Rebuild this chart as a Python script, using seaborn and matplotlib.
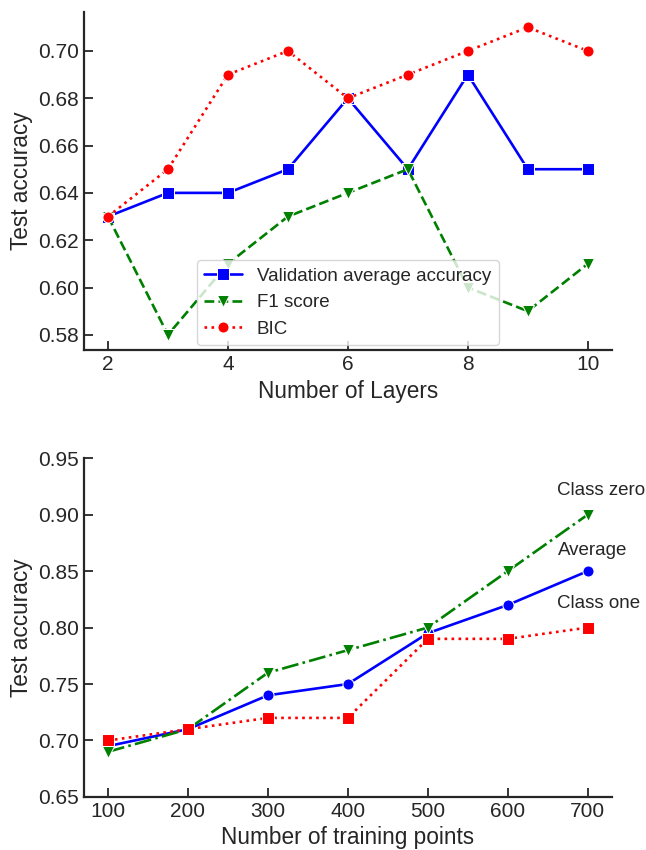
import matplotlib
matplotlib.use("Agg")
import matplotlib.pyplot as plt
import seaborn as sns
import pandas as pd

# ---- data ----
layers = [2, 3, 4, 5, 6, 7, 8, 9, 10]
val_avg_acc = [0.63, 0.64, 0.64, 0.65, 0.68, 0.65, 0.69, 0.65, 0.65]
f1_score = [0.63, 0.58, 0.61, 0.63, 0.64, 0.65, 0.60, 0.59, 0.61]
bic = [0.63, 0.65, 0.69, 0.70, 0.68, 0.69, 0.70, 0.71, 0.70]
layer_ticks = [2, 4, 6, 8, 10]

train_points = [100, 200, 300, 400, 500, 600, 700]
avg_acc = [0.695, 0.71, 0.74, 0.75, 0.795, 0.82, 0.85]
class_zero = [0.69, 0.71, 0.76, 0.78, 0.80, 0.85, 0.90]
class_one = [0.70, 0.71, 0.72, 0.72, 0.79, 0.79, 0.80]

sns.set_theme(style="ticks")
plt.rcParams['font.family'] = ['Liberation Sans', 'DejaVu Sans']
plt.rcParams.update({
    'axes.linewidth': 1.6,
    'xtick.direction': 'in', 'ytick.direction': 'in',
    'xtick.major.size': 6.5, 'ytick.major.size': 6.5,
    'xtick.major.width': 1.3, 'ytick.major.width': 1.3,
    'xtick.labelsize': 15, 'ytick.labelsize': 15,
    'axes.labelsize': 16.3, 'text.color': '#262626',
    'axes.edgecolor': '#262626', 'xtick.color': '#262626', 'ytick.color': '#262626',
    'axes.labelcolor': '#262626',
})

fig = plt.figure(figsize=(6.46, 8.5), dpi=100)
ax1 = fig.add_axes([0.130, 0.588, 0.817, 0.398])
ax2 = fig.add_axes([0.130, 0.0624, 0.817, 0.3986])

top = pd.DataFrame({'layers': layers, 'val': val_avg_acc, 'f1': f1_score, 'bic': bic})
lw = 1.9
ms = 8
sns.lineplot(data=top, x='layers', y='val', ax=ax1, color='blue', marker='s',
             linestyle='-', lw=lw, markersize=ms, label='Validation average accuracy')
sns.lineplot(data=top, x='layers', y='f1', ax=ax1, color='green', marker='v',
             linestyle='--', lw=lw, markersize=ms, label='F1 score')
sns.lineplot(data=top, x='layers', y='bic', ax=ax1, color='red', marker='o',
             linestyle=':', lw=lw, markersize=ms, label='BIC')
ax1.set_xticks(layer_ticks)
ax1.set_xlabel('Number of Layers')
ax1.set_ylabel('Test accuracy')
ax1.legend(loc='lower left', bbox_to_anchor=(0.214, 0.015), borderaxespad=0,
           fontsize=13.5, frameon=True, framealpha=0.8, edgecolor='#cccccc',
           handlelength=2.0)
sns.despine(ax=ax1)

bot = pd.DataFrame({'n': train_points, 'avg': avg_acc, 'c0': class_zero, 'c1': class_one})
sns.lineplot(data=bot, x='n', y='avg', ax=ax2, color='blue', marker='o',
             linestyle='-', lw=lw, markersize=ms)
sns.lineplot(data=bot, x='n', y='c0', ax=ax2, color='green', marker='v',
             linestyle='-.', lw=lw, markersize=ms)
sns.lineplot(data=bot, x='n', y='c1', ax=ax2, color='red', marker='s',
             linestyle=':', lw=lw, markersize=ms)
ax2.set_ylim(0.65, 0.95)
ax2.set_xticks(train_points)
ax2.set_xlabel('Number of training points')
ax2.set_ylabel('Test accuracy')
ax2.text(661, 0.9217, 'Class zero', fontsize=13.5, va='center', ha='left', clip_on=False)
ax2.text(663, 0.8686, 'Average', fontsize=13.5, va='center', ha='left')
ax2.text(661, 0.821, 'Class one', fontsize=13.5, va='center', ha='left', clip_on=False)
sns.despine(ax=ax2)

fig.savefig('out.png', dpi=100)
